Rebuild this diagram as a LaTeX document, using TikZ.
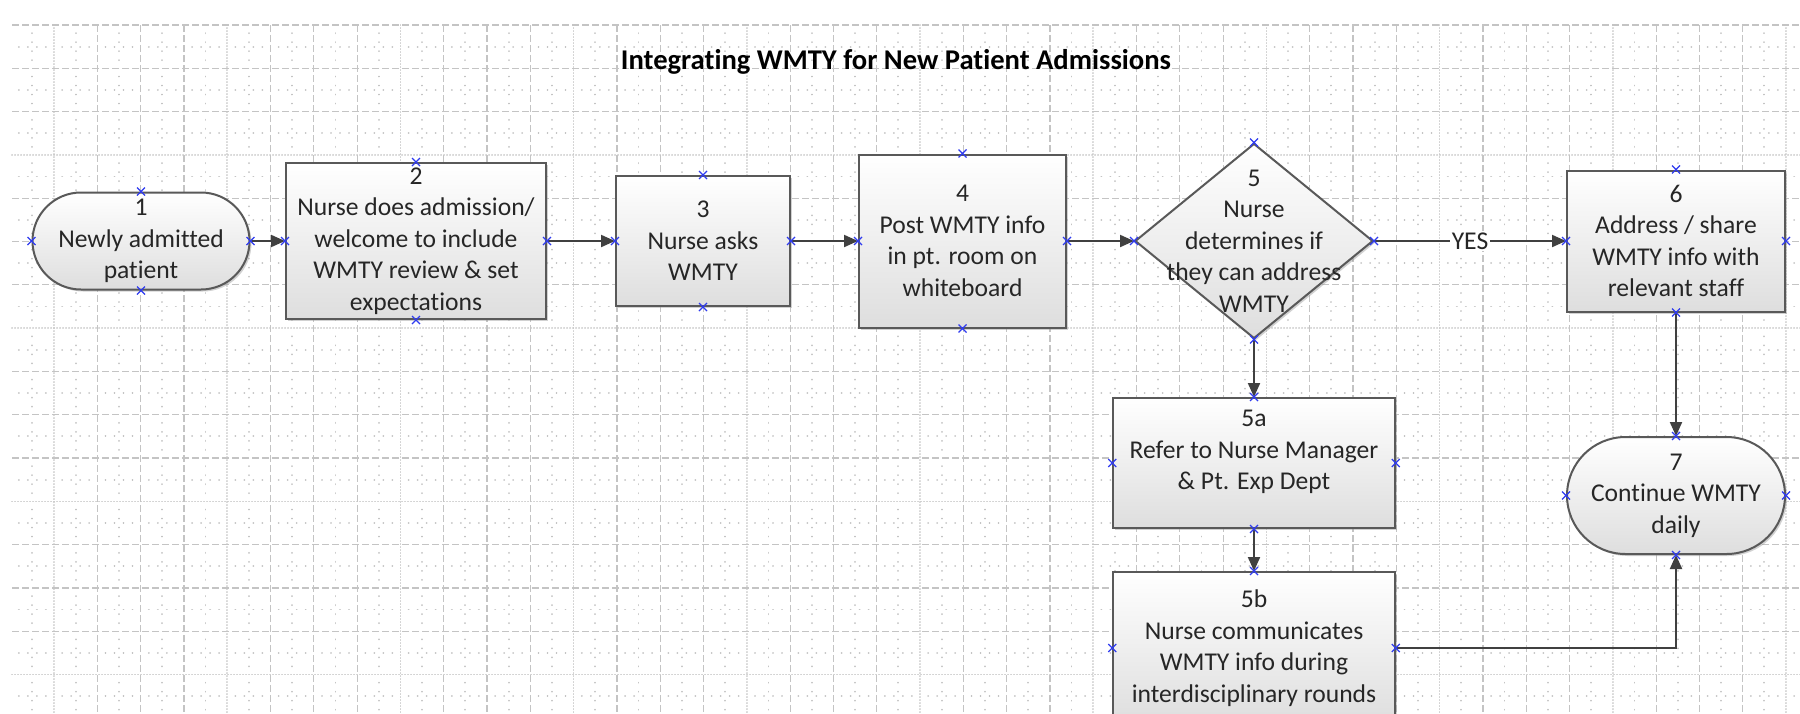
\documentclass[tikz,border=0pt]{standalone}
\usepackage{fontspec}
\setmainfont{Carlito}[Ligatures={NoCommon}]
\usetikzlibrary{shapes.geometric,arrows.meta,shadows}
\definecolor{edgec}{HTML}{595959}
\definecolor{connc}{HTML}{404040}
\definecolor{mkblue}{HTML}{2F3BF0}
\definecolor{gridc}{HTML}{C4C4C4}
\newcommand\wmtyfont{\fontsize{12.8}{15.75}\selectfont}
\tikzset{
  xmk/.pic={\draw[mkblue, line width=0.55pt] (-2pt,-2pt) -- (2pt,2pt) (-2pt,2pt) -- (2pt,-2pt);},
  box/.style={draw=edgec, line width=1pt, top color=white, bottom color=black!13,
    drop shadow={shadow xshift=1pt, shadow yshift=-1pt, fill=black!40, opacity=.45},
    inner sep=0pt, align=center, text=black!85, font=\wmtyfont},
  proc/.style={box, rectangle},
  term/.style={box, rectangle, rounded corners=#1},
  decision/.style={box, diamond, aspect=1},
  txtlab/.style={align=center, font=\wmtyfont, text=black!85, inner sep=0pt},
  conn/.style={draw=connc, line width=1pt, -{Triangle[length=7pt,width=6pt]}},
  gridmaj/.style={draw=gridc, line width=0.6pt, dash pattern=on 3.5pt off 1.5pt},
  griddot/.style={draw=gridc, line width=0.8pt, line cap=round, dash pattern=on 0.05pt off 1.45pt},
  gridmin/.style={draw=gridc, line width=0.9pt, line cap=round,
    dash pattern=on 0.05pt off 4.45pt on 0.05pt off 4.45pt on 0.05pt off 4.45pt on 0.05pt off 8.1pt},
  yeslab/.style={fill=white, inner sep=1pt, font=\wmtyfont, text=black!85}
}
\begin{document}
\begin{tikzpicture}[x=0.5pt,y=-0.5pt]
\useasboundingbox (0,0) rectangle (1800,713);
\fill[white] (0,0) rectangle (1800,713);
\clip (0,0) rectangle (1800,713);
% grid
\foreach \i in {1,...,41} {
  \pgfmathtruncatemacro\r{mod(\i,4)}
  \ifnum\r=1 \draw[griddot] ({10.7+43.3*\i},25) -- ({10.7+43.3*\i},713);
  \else \draw[gridmaj] ({10.7+43.3*\i},25) -- ({10.7+43.3*\i},713); \fi
}
\foreach \k in {0,...,15} {
  \pgfmathtruncatemacro\r{mod(\k,4)}
  \ifnum\r=3 \draw[griddot] (12,{25+43.3*\k}) -- (1800,{25+43.3*\k});
  \else \draw[gridmaj] (12,{25+43.3*\k}) -- (1800,{25+43.3*\k}); \fi
}
\foreach \k in {0,...,15} { \draw[gridmin] (18.85,{46.65+43.3*\k}) -- (1800,{46.65+43.3*\k}); }
\foreach \j in {0,...,40} { \draw[gridmin] ({32.35+43.3*\j},33.15) -- ({32.35+43.3*\j},713); }

% title
\node[font=\bfseries\fontsize{14.3}{17}\selectfont] (title) at (896,62) {Integrating WMTY for New Patient Admissions};

% nodes
\node[term=24.25pt, minimum width=108.5pt, minimum height=48.5pt] (n1) at (141,241)
  {1\\Newly admitted\\patient};
\node[proc, minimum width=130pt, minimum height=78pt] (n2) at (416,241)
  {2\\Nurse does admission/\\welcome to include\\WMTY review \& set\\expectations};
\node[proc, minimum width=87pt, minimum height=65pt] (n3) at (703,241)
  {3\\Nurse asks\\WMTY};
\node[proc, minimum width=103.5pt, minimum height=86.5pt] (n4) at (962.5,241)
  {4\\Post WMTY info\\in pt. room on\\whiteboard};
\node[decision, minimum width=119pt, minimum height=97.5pt,
  label={[txtlab]center:{5\\Nurse\\determines if\\they can address\\WMTY}}] (n5) at (1254,241) {};
\node[proc, minimum width=109pt, minimum height=70.5pt] (n6) at (1676,241)
  {6\\Address / share\\WMTY info with\\relevant staff};
\node[proc, minimum width=140.75pt, minimum height=65pt,
  label={[txtlab, yshift=5.5pt]center:{5a\\Refer to Nurse Manager\\\& Pt. Exp Dept}}] (n5a) at (1254,463) {};
\node[proc, minimum width=140.75pt, minimum height=76pt] (n5b) at (1254,648)
  {5b\\Nurse communicates\\WMTY info during\\interdisciplinary rounds};
\node[term=29.25pt, minimum width=109pt, minimum height=58.5pt] (n7) at (1676,495.5)
  {7\\Continue WMTY\\daily};

% connectors
\draw[conn] (n1.east) -- (n2.west);
\draw[conn] (n2.east) -- (n3.west);
\draw[conn] (n3.east) -- (n4.west);
\draw[conn] (n4.east) -- (n5.west);
\draw[conn] (n5.east) -- node[yeslab] {YES} (n6.west);
\draw[conn] (n5.south) -- (n5a.north);
\draw[conn] (n5a.south) -- (n5b.north);
\draw[conn] (n6.south) -- (n7.north);
\draw[conn] (n5b.east) -| (n7.south);

% connection point markers
\foreach \n in {n1,n2,n3,n4,n5,n6,n5a,n5b,n7} {
  \foreach \a in {north,south,east,west} { \pic at (\n.\a) {xmk}; }
}
\end{tikzpicture}
\end{document}
